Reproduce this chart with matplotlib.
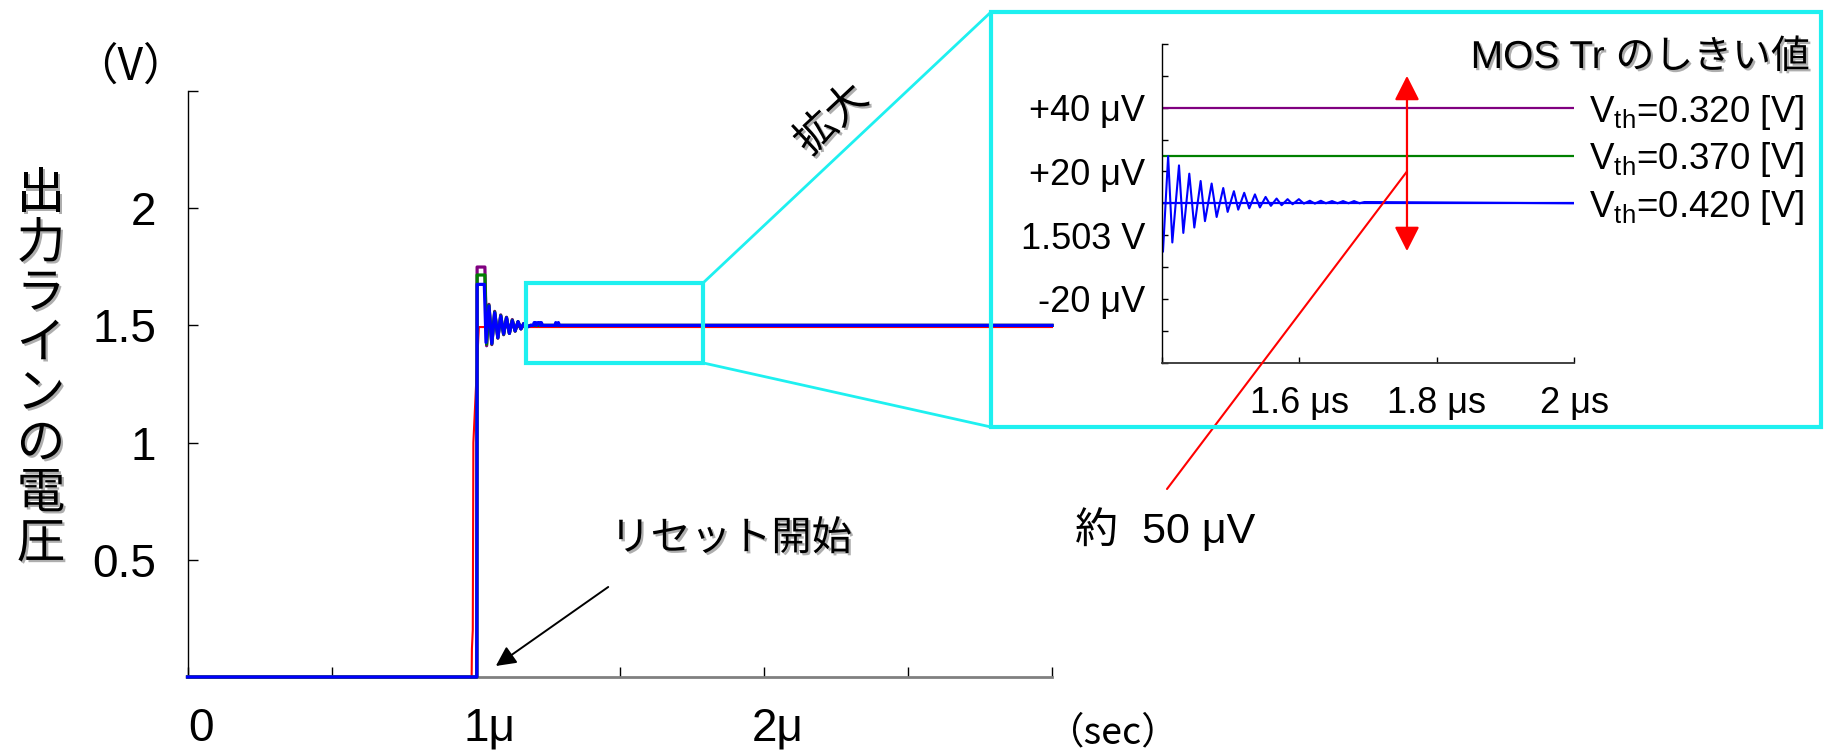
import numpy as np
import matplotlib.pyplot as plt
import matplotlib.patheffects as pe
from matplotlib.patches import Rectangle, ConnectionPatch
from matplotlib.transforms import ScaledTranslation

plt.rcParams['font.family'] = ['Liberation Sans', 'Noto Sans CJK JP']
plt.rcParams['mathtext.fontset'] = 'custom'
plt.rcParams['mathtext.rm'] = 'Liberation Sans'
plt.rcParams['mathtext.it'] = 'Liberation Sans:italic'

# ---- main waveform data (time in us, voltage in V) ----
t_red = [0, 0.986, 0.987, 0.990, 0.992, 1.001, 1.011, 3.0]
v_red = [0, 0, 0.12, 0.20, 1.00, 1.235, 1.493, 1.493]

t_osc = [0, 1.004, 1.005, 1.032, 1.038, 1.046, 1.056, 1.066, 1.077, 1.087, 1.097,
         1.107, 1.117, 1.127, 1.137, 1.147, 1.157, 1.167, 1.177, 1.190, 3.0]
v_purple = [0, 0, 1.749, 1.749, 1.413, 1.590, 1.418, 1.560, 1.445, 1.545, 1.460,
            1.535, 1.466, 1.525, 1.475, 1.516, 1.485, 1.508, 1.494, 1.5, 1.5]
v_green = [0, 0, 1.715, 1.715, 1.420, 1.586, 1.421, 1.557, 1.447, 1.542, 1.462,
           1.533, 1.466, 1.522, 1.476, 1.516, 1.485, 1.508, 1.493, 1.5, 1.5]
t_blue = [0, 1.004, 1.005, 1.030, 1.036, 1.046, 1.056, 1.066, 1.077, 1.087, 1.097,
          1.107, 1.117, 1.127, 1.137, 1.147, 1.157, 1.167, 1.177, 1.190,
          1.200, 1.203, 1.208, 1.211, 1.216, 1.221, 1.224, 1.228, 1.232,
          1.275, 1.278, 1.283, 1.287, 1.291, 3.0]
v_blue = [0, 0, 1.675, 1.675, 1.427, 1.583, 1.423, 1.554, 1.448, 1.540, 1.464,
          1.532, 1.466, 1.520, 1.477, 1.516, 1.485, 1.508, 1.492, 1.5,
          1.5, 1.512, 1.512, 1.5, 1.512, 1.512, 1.5, 1.512, 1.5,
          1.5, 1.512, 1.5, 1.512, 1.5, 1.5]

# ---- inset data (time in us, offset from 1.503 V in uV) ----
t_zoom = [1.400, 1.402, 1.4095, 1.4156, 1.4253, 1.4316, 1.4403, 1.4476, 1.4568, 1.4631,
          1.4728, 1.4801, 1.4897, 1.4961, 1.5052, 1.5115, 1.5202, 1.5275, 1.5358, 1.5430,
          1.5513, 1.5590, 1.5673, 1.5746, 1.5833, 1.5906, 1.5997, 1.6070, 1.6157, 1.6230,
          1.6317, 1.6390, 1.6480, 1.6560, 1.6640, 1.6720, 1.6800, 1.6880, 1.6950, 2.0]
v_zoom = [2.0, -5.2, 24.8, -2.3, 21.9, 0.7, 19.3, 2.4, 17.0, 4.4,
          16.2, 5.7, 14.8, 7.3, 13.8, 8.0, 13.3, 8.4, 12.8, 8.7,
          12.0, 9.2, 11.5, 9.4, 11.3, 9.7, 11.3, 9.9, 10.8, 9.9,
          10.8, 10.0, 10.7, 10.0, 10.7, 10.0, 10.7, 10.0, 10.4, 10.0]
vth_labels = ['0.320', '0.370', '0.420']
vth_levels = [40, 25, 10]
vth_colors = ['#800080', '#008000', '#0000ff']

main_xticks = [0, 0.5, 1, 1.5, 2, 2.5, 3]
main_xlabels = ['0', '', '1μ', '', '2μ', '', '']
main_yticks = [0, 0.5, 1, 1.5, 2, 2.5]
main_ylabels = ['', '0.5', '1', '1.5', '2', '']
zoom_xticks = [1.4, 1.6, 1.8, 2.0]
zoom_xlabels = ['', '1.6 μs', '1.8 μs', '2 μs']
zoom_yticks = [-40, -30, -20, -10, 0, 10, 20, 30, 40, 50, 60]
zoom_ylabels = ['', '', '-20 μV', '', '1.503 V', '', '+20 μV', '', '+40 μV', '', '']

W, H = 1825, 752
def fx(px):
    return px / W
def fy(py):
    return 1 - py / H

CYAN = '#1ef0f0'
jp = ['Noto Sans CJK JP', 'DejaVu Sans']
mix = ['Liberation Sans', 'Noto Sans CJK JP']
shadow = [pe.SimplePatchShadow(offset=(1.6, -1.6), shadow_rgbFace='0.55', alpha=0.7), pe.Normal()]

fig = plt.figure(figsize=(W / 100, H / 100), dpi=100)

# ---------------- main axes ----------------
ax = fig.add_axes([fx(187.5), fy(677), fx(1052) - fx(187.5), fy(91) - fy(677)])
ax.plot(t_red, v_red, color='#ff0000', lw=1.5, clip_on=False, zorder=3)
ax.plot(t_osc, v_purple, color='#800080', lw=2.3, clip_on=False, zorder=4)
ax.plot(t_osc, v_green, color='#008000', lw=2.3, clip_on=False, zorder=5)
ax.plot(t_blue, v_blue, color='#0000ff', lw=2.3, clip_on=False, zorder=6)
ax.set_xlim(0, 3)
ax.set_ylim(0, 2.5)
for s in ['top', 'right']:
    ax.spines[s].set_visible(False)
ax.spines['left'].set_linewidth(1.0)
ax.spines['bottom'].set_color('#808080')
ax.spines['bottom'].set_linewidth(2.0)
ax.set_xticks(main_xticks)
ax.set_xticklabels(main_xlabels, fontsize=33)
ax.set_yticks(main_yticks)
ax.set_yticklabels(main_ylabels, fontsize=33)
ax.tick_params(axis='both', direction='in', length=7.5, width=1.0, color='black')
ax.tick_params(axis='y', pad=22.5)
ax.tick_params(axis='x', pad=21.5)
shift = ScaledTranslation(0.14, 0, fig.dpi_scale_trans)
for lbl in ax.get_xticklabels():
    lbl.set_transform(lbl.get_transform() + shift)

# small magnify box
ax.add_patch(Rectangle((1.176, 1.340), 1.789 - 1.176, 1.681 - 1.340, fill=False,
                       edgecolor=CYAN, lw=3.0, zorder=7, clip_on=False))

# reset arrow and label
ax.annotate('', xy=(1.070, 0.047), xytext=(1.460, 0.384),
            arrowprops=dict(arrowstyle='-|>', color='black', lw=1.4, mutation_scale=30,
                            shrinkA=0, shrinkB=0))
ax.text(1.886, 0.591, 'リセット開始', fontsize=29, family=jp, ha='center', va='center',
        path_effects=shadow)

# ---------------- inset axes ----------------
ins = fig.add_axes([fx(1161.6), fy(362.6), fx(1574) - fx(1161.6), fy(44) - fy(362.6)])
for lev, col in zip(vth_levels, vth_colors):
    ins.plot([1.4, 2.0], [lev, lev], color=col, lw=1.6)
ins.plot(t_zoom, v_zoom, color='#0000ff', lw=1.5)
ins.set_xlim(1.4, 2.0)
ins.set_ylim(-40, 60)
for s in ['top', 'right']:
    ins.spines[s].set_visible(False)
ins.spines['left'].set_linewidth(1.0)
ins.spines['bottom'].set_linewidth(1.3)
ins.spines['bottom'].set_color('#333333')
ins.set_xticks(zoom_xticks)
ins.set_xticklabels(zoom_xlabels, fontsize=26)
ins.set_yticks(zoom_yticks)
ins.set_yticklabels(zoom_ylabels, fontsize=26)
ins.tick_params(axis='both', direction='in', length=4, width=1.0)
ins.tick_params(axis='y', pad=12)
ins.tick_params(axis='x', pad=17)

for lab, lev in zip(vth_labels, vth_levels):
    ins.annotate('V$_{\\mathrm{th}}$=' + lab + ' [V]', xy=(2.0, lev), xytext=(10.8, -10),
                 textcoords='offset points', fontsize=26.5, ha='left', va='baseline',
                 annotation_clip=False)

ins.annotate('', xy=(1.757, 50), xytext=(1.757, -5),
             arrowprops=dict(arrowstyle='<|-|>,head_length=0.75,head_width=0.38',
                             color='#ff0000', lw=1.6, mutation_scale=20,
                             shrinkA=0, shrinkB=0))

# red pointer line to the "approx 50 uV" label
fig.add_artist(ConnectionPatch(xyA=(1.757, 20), coordsA='data', axesA=ins,
                               xyB=(fx(1167), fy(489)), coordsB='figure fraction',
                               color='#ff0000', lw=1.5))
fig.text(fx(1075), fy(530), '約  50 μV', fontsize=31, family=mix, ha='left', va='center')

fig.text(fx(1809.7), fy(58), 'MOS Tr のしきい値', fontsize=28, family=mix,
         ha='right', va='center', path_effects=shadow)

# ---------------- big magnify box + connectors ----------------
fig.add_artist(Rectangle((fx(991), fy(427)), fx(1821) - fx(991), fy(12) - fy(427),
                         transform=fig.transFigure, fill=False, edgecolor=CYAN, lw=3.0))
fig.add_artist(ConnectionPatch(xyA=(1.789, 1.681), coordsA='data', axesA=ax,
                               xyB=(fx(991), fy(12)), coordsB='figure fraction',
                               color=CYAN, lw=2.0))
fig.add_artist(ConnectionPatch(xyA=(1.789, 1.340), coordsA='data', axesA=ax,
                               xyB=(fx(991), fy(427)), coordsB='figure fraction',
                               color=CYAN, lw=2.0))
fig.text(fx(832), fy(120), '拡大', fontsize=30, family=jp, rotation=43,
         rotation_mode='anchor', ha='center', va='center', path_effects=shadow)

# ---------------- axis labels ----------------
ylab = '出力ラインの電圧'
for i, ch in enumerate(ylab):
    fig.text(fx(41), fy(194 + 50 * i), ch, fontsize=35, family=jp, ha='center',
             va='center', path_effects=shadow)
fig.text(fx(130), fy(67), '（V）', fontsize=32, family=jp, ha='center', va='center')
fig.text(fx(1113), fy(733), '（sec）', fontsize=27, family=jp, ha='center', va='center')

fig.savefig('out.png', dpi=100)
